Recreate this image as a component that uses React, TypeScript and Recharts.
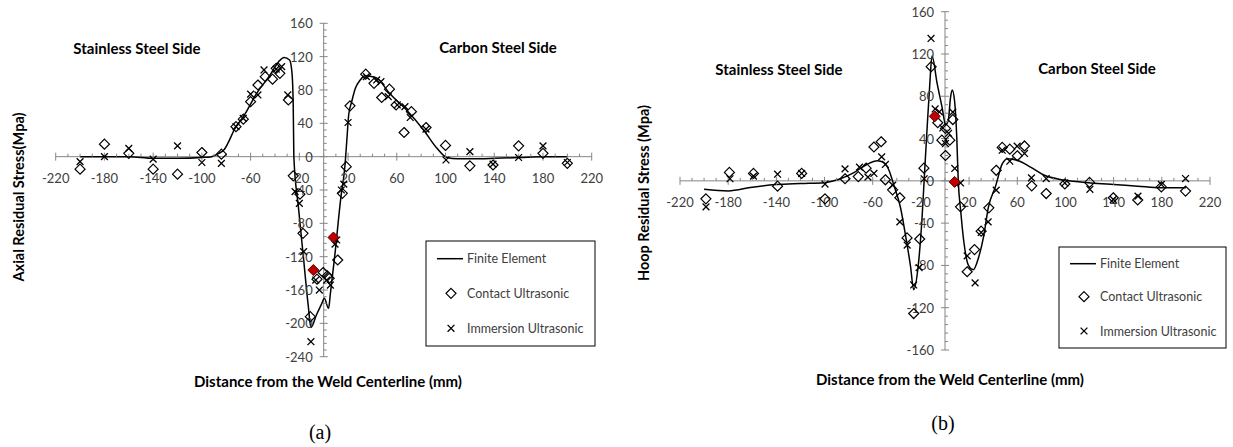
import React from 'react';
import {
    ComposedChart,
    Line,
    Scatter,
    XAxis,
    YAxis,
    ReferenceLine,
    ReferenceDot
} from 'recharts';

// tick labels
const xTickLabels = [-220, -180, -140, -100, -60, -20, 20, 60, 100, 140, 180, 220];
const axialTicks = [-240, -200, -160, -120, -80, -40, 0, 40, 80, 120, 160];
const hoopTicks = [-160, -120, -80, -40, 0, 40, 80, 120, 160];

// (a) axial residual stress
const axialFE = [
    { x: -200, y: 0 }, { x: -180, y: 0 }, { x: -160, y: 0 }, { x: -140, y: -2 }, { x: -120, y: -2 },
    { x: -100, y: -1 }, { x: -92, y: 0 }, { x: -86, y: 4 }, { x: -82, y: 8 }, { x: -72, y: 36 },
    { x: -66, y: 48 }, { x: -55, y: 76 }, { x: -44, y: 98 }, { x: -37, y: 114 }, { x: -32.5, y: 119 },
    { x: -28, y: 116 }, { x: -26, y: 100 }, { x: -25, y: 60 }, { x: -24.5, y: 0 }, { x: -20.8, y: -60 },
    { x: -16.7, y: -120 }, { x: -12.6, y: -180 }, { x: -10.5, y: -205 }, { x: -6, y: -190 }, { x: -1.5, y: -176 },
    { x: 0.5, y: -170 }, { x: 4, y: -182 }, { x: 5.5, y: -164 }, { x: 9, y: -120 }, { x: 14, y: -50 },
    { x: 17.5, y: -10 }, { x: 19, y: 20 }, { x: 20.5, y: 50 }, { x: 23, y: 66 }, { x: 26, y: 82 },
    { x: 30, y: 92 }, { x: 34, y: 97 }, { x: 40, y: 96 }, { x: 44, y: 94 }, { x: 54, y: 76 },
    { x: 68, y: 56 }, { x: 82, y: 32 }, { x: 93, y: 10 }, { x: 101, y: -1 }, { x: 110, y: -2.5 },
    { x: 123, y: -2.5 }, { x: 140, y: -2 }, { x: 161, y: -1 }, { x: 180, y: 0 }, { x: 200, y: 0 }
];
const axialContact = [
    { x: -200, y: -15 }, { x: -180, y: 15 }, { x: -160, y: 4 }, { x: -140, y: -15 }, { x: -120, y: -21 },
    { x: -100, y: 5 }, { x: -84, y: 3 }, { x: -72, y: 36 }, { x: -66, y: 45 }, { x: -60, y: 66 },
    { x: -54, y: 86 }, { x: -48, y: 96 }, { x: -42, y: 93 }, { x: -39, y: 106 }, { x: -36, y: 100 },
    { x: -29, y: 68 }, { x: -25, y: -23 }, { x: -19.5, y: -45 }, { x: -17, y: -92 }, { x: -11, y: -192 },
    { x: -5.5, y: -147 }, { x: -0.5, y: -139 }, { x: 3, y: -143 }, { x: 4.5, y: -146 }, { x: 11.5, y: -124 },
    { x: 15.3, y: -44 }, { x: 18.5, y: -12 }, { x: 21.6, y: 61 }, { x: 34.5, y: 99 }, { x: 41.3, y: 88 },
    { x: 47.6, y: 71 }, { x: 54, y: 81 }, { x: 59.4, y: 62 }, { x: 66, y: 29 }, { x: 72, y: 54 },
    { x: 84, y: 35 }, { x: 100, y: 13.5 }, { x: 120, y: -11 }, { x: 139, y: -10 }, { x: 160, y: 13 },
    { x: 180, y: 4 }, { x: 200, y: -8 }
];
const axialImmersion = [
    { x: -200, y: -6 }, { x: -180, y: 0 }, { x: -160, y: 10 }, { x: -140, y: -3 }, { x: -120, y: 13 },
    { x: -100, y: -7 }, { x: -84, y: -8 }, { x: -72, y: 36 }, { x: -66, y: 46 }, { x: -60, y: 75 },
    { x: -54, y: 74 }, { x: -49, y: 104 }, { x: -39, y: 105 }, { x: -34.5, y: 108 }, { x: -29.5, y: 74 },
    { x: -23.5, y: -42 }, { x: -20, y: -56 }, { x: -16.5, y: -114 }, { x: -10.5, y: -222 }, { x: -6.5, y: -148 },
    { x: -3.6, y: -160 }, { x: 2.5, y: -148 }, { x: 5.5, y: -154 }, { x: 9.3, y: -105 }, { x: 10.7, y: -100 },
    { x: 14.5, y: -40 }, { x: 16.5, y: -33 }, { x: 20, y: 41 }, { x: 35, y: 96 }, { x: 43.5, y: 92 },
    { x: 47, y: 90 }, { x: 53, y: 72 }, { x: 60.4, y: 62 }, { x: 66.7, y: 60 }, { x: 71, y: 47 },
    { x: 84, y: 33 }, { x: 100.4, y: -4 }, { x: 120, y: 6 }, { x: 139, y: -9 }, { x: 160, y: -1 },
    { x: 180, y: 13 }, { x: 200, y: -7 }
];
const axialRed = [{ x: -8.5, y: -136 }, { x: 8, y: -97 }];

// (b) hoop residual stress
const hoopFE = [
    { x: -200, y: -8 }, { x: -180, y: -9.5 }, { x: -160, y: -6 }, { x: -140, y: -3.5 }, { x: -120, y: -2.5 },
    { x: -100, y: -1.7 }, { x: -88, y: 1.5 }, { x: -76, y: 7.5 }, { x: -65, y: 15.5 }, { x: -56, y: 19 },
    { x: -51, y: 17.5 }, { x: -46.5, y: 10 }, { x: -42.5, y: -4 }, { x: -37, y: -25 }, { x: -33, y: -50 },
    { x: -28.6, y: -81 }, { x: -26, y: -103 }, { x: -22.3, y: -81 }, { x: -19, y: -34 }, { x: -17, y: 7 },
    { x: -14.8, y: 51 }, { x: -12.6, y: 92 }, { x: -10.8, y: 118 }, { x: -6.5, y: 92 }, { x: -2.5, y: 70 },
    { x: 0.5, y: 53 }, { x: 2.7, y: 57 }, { x: 4.6, y: 79 }, { x: 6, y: 86 }, { x: 7.9, y: 76 },
    { x: 9.8, y: 40 }, { x: 11, y: 0 }, { x: 13, y: -28 }, { x: 15.8, y: -59 }, { x: 19.5, y: -80 },
    { x: 23.5, y: -84 }, { x: 28, y: -72 }, { x: 32, y: -53 }, { x: 36, y: -25 }, { x: 42, y: -5 },
    { x: 47.5, y: 16 }, { x: 52, y: 21 }, { x: 60, y: 19.5 }, { x: 71, y: 13 }, { x: 82, y: 5.5 },
    { x: 99, y: 0.7 }, { x: 121, y: -2 }, { x: 140, y: -3.5 }, { x: 160, y: -5 }, { x: 179, y: -6.6 },
    { x: 200, y: -6.6 }
];
const hoopContact = [
    { x: -198.5, y: -17 }, { x: -179, y: 8 }, { x: -159, y: 7 }, { x: -139, y: -5 }, { x: -119, y: 7 },
    { x: -99.6, y: -17 }, { x: -83, y: 2 }, { x: -72, y: 4 }, { x: -65.5, y: 12 }, { x: -59, y: 32 },
    { x: -53, y: 37 }, { x: -49.5, y: 1 }, { x: -43.5, y: -8.5 }, { x: -37.5, y: -16 }, { x: -31.5, y: -54 },
    { x: -26, y: -125.5 }, { x: -21, y: -55 }, { x: -17.5, y: 12 }, { x: -11.5, y: 108 }, { x: -6, y: 55 },
    { x: -2.6, y: 38.5 }, { x: 0.4, y: 24 }, { x: 0.4, y: 49.6 }, { x: 4, y: 38.5 }, { x: 6.5, y: 58 },
    { x: 12.9, y: -24.6 }, { x: 18.4, y: -86 }, { x: 24.5, y: -65 }, { x: 30, y: -47.6 }, { x: 36.4, y: -25.5 },
    { x: 42.5, y: 10 }, { x: 47.5, y: 31.6 }, { x: 53.8, y: 30 }, { x: 60, y: 23.7 }, { x: 66, y: 33 },
    { x: 72, y: -4.7 }, { x: 84, y: -12 }, { x: 99.5, y: -3 }, { x: 120, y: -1.5 }, { x: 139.7, y: -16 },
    { x: 160, y: -18 }, { x: 179.6, y: -5.7 }, { x: 199.7, y: -9.7 }
];
const hoopImmersion = [
    { x: -198.4, y: -24.6 }, { x: -178.5, y: 2 }, { x: -159, y: 4.5 }, { x: -139, y: 6.3 }, { x: -119, y: 7 },
    { x: -99.6, y: -3 }, { x: -83, y: 11.3 }, { x: -71, y: 13 }, { x: -64, y: 3.5 }, { x: -59, y: 7 },
    { x: -52.6, y: 22.7 }, { x: -49.5, y: 15.5 }, { x: -43.4, y: -4 }, { x: -37.5, y: -38.8 }, { x: -31.4, y: -60.8 },
    { x: -26, y: -98.5 }, { x: -21.5, y: -82 }, { x: -17.3, y: 2 }, { x: -11.6, y: 134.7 }, { x: -8.2, y: 68 },
    { x: -4.7, y: 65.3 }, { x: -1.8, y: 50 }, { x: 0.4, y: 35.3 }, { x: 3, y: 45 }, { x: 6.5, y: 65 },
    { x: 8.1, y: 11.7 }, { x: 12.9, y: -2 }, { x: 18.4, y: -71 }, { x: 25, y: -96.5 }, { x: 30, y: -48.8 },
    { x: 35.8, y: -38.8 }, { x: 42.5, y: -8.8 }, { x: 47.5, y: 29 }, { x: 53.8, y: 18.6 }, { x: 59.9, y: 32.8 },
    { x: 66, y: 25.9 }, { x: 71.8, y: 2.8 }, { x: 84, y: 2.2 }, { x: 99.5, y: -2 }, { x: 120.3, y: -8 },
    { x: 139.7, y: -17.6 }, { x: 160.2, y: -14.5 }, { x: 179.6, y: -3.4 }, { x: 199.7, y: 2.2 }
];
const hoopRed = [{ x: -8.5, y: 61 }, { x: 8, y: -1 }];

const AXIS = '#868686';
const LABEL = '#404040';
const FONT = 'Lato, "Open Sans", sans-serif';

const range = (from: number, to: number, step: number) => {
    const out: number[] = [];
    for (let v = from; v <= to + 1e-9; v += step) out.push(v);
    return out;
};

const diamondPath = (cx: number, cy: number, s: number) =>
    `M${cx},${cy - s}L${cx + s},${cy}L${cx},${cy + s}L${cx - s},${cy}Z`;

const DiamondShape = (props: any) => (
    <path d={diamondPath(props.cx, props.cy, 5)} fill="none" stroke="#000" strokeWidth={1.2} />
);
const RedDiamondShape = (props: any) => (
    <path d={diamondPath(props.cx, props.cy, 5.5)} fill="#c00000" stroke="#5a0000" strokeWidth={1} />
);
const CrossShape = (props: any) => {
    const { cx, cy } = props;
    const s = 3.4;
    return (
        <path d={`M${cx - s},${cy - s}L${cx + s},${cy + s}M${cx - s},${cy + s}L${cx + s},${cy - s}`}
            stroke="#000" strokeWidth={1.3} fill="none" />
    );
};

interface PanelProps {
    left: number;
    width: number;
    margin: { top: number; right: number; bottom: number; left: number };
    yDomain: [number, number];
    yTicks: number[];
    fe: { x: number; y: number }[];
    contact: { x: number; y: number }[];
    immersion: { x: number; y: number }[];
    red: { x: number; y: number }[];
}

function Panel({ left, width, margin, yDomain, yTicks, fe, contact, immersion, red }: PanelProps) {
    const xMinor = range(-220, 220, 10);
    const yMinor = range(yDomain[0], yDomain[1], 8);
    return (
        <div style={{ position: 'absolute', left, top: 0 }}>
            <ComposedChart width={width} height={447} margin={margin}>
                <XAxis type="number" dataKey="x" domain={[-220, 220]} hide allowDataOverflow />
                <YAxis type="number" dataKey="y" domain={yDomain} hide allowDataOverflow />
                <ReferenceLine y={0} stroke={AXIS} strokeWidth={1} />
                <ReferenceLine x={0} stroke={AXIS} strokeWidth={1} />
                {xMinor.map((v) => (
                    <ReferenceDot key={`xm${v}`} x={v} y={0} ifOverflow="visible"
                        shape={(p: any) => (
                            v % 40 === 20 || v % 40 === -20
                                ? <line x1={p.cx} x2={p.cx} y1={p.cy - 4} y2={p.cy + 4} stroke={AXIS} />
                                : <line x1={p.cx} x2={p.cx} y1={p.cy - 3} y2={p.cy} stroke={AXIS} />
                        )} />
                ))}
                {yMinor.map((v) => (
                    <ReferenceDot key={`ym${v}`} x={0} y={v} ifOverflow="visible"
                        shape={(p: any) => (
                            v % 40 === 0
                                ? <line x1={p.cx - 4} x2={p.cx + 4} y1={p.cy} y2={p.cy} stroke={AXIS} />
                                : <line x1={p.cx} x2={p.cx + 3} y1={p.cy} y2={p.cy} stroke={AXIS} />
                        )} />
                ))}
                {xTickLabels.map((v) => (
                    <ReferenceDot key={`xl${v}`} x={v} y={0} ifOverflow="visible"
                        shape={(p: any) => (
                            <text x={p.cx} y={p.cy + 26} textAnchor="middle" fontSize={13}
                                fill={LABEL} fontFamily={FONT}>{v}</text>
                        )} />
                ))}
                {yTicks.map((v) => (
                    <ReferenceDot key={`yl${v}`} x={0} y={v} ifOverflow="visible"
                        shape={(p: any) => (
                            <text x={p.cx - 11} y={p.cy} textAnchor="end" dominantBaseline="central"
                                fontSize={13} fill={LABEL} fontFamily={FONT}>{v}</text>
                        )} />
                ))}
                <Line data={fe} dataKey="y" type="monotone" dot={false} stroke="#000"
                    strokeWidth={1.5} isAnimationActive={false} />
                <Scatter data={contact} dataKey="y" shape={DiamondShape} isAnimationActive={false} />
                <Scatter data={immersion} dataKey="y" shape={CrossShape} isAnimationActive={false} />
                <Scatter data={red} dataKey="y" shape={RedDiamondShape} isAnimationActive={false} />
            </ComposedChart>
        </div>
    );
}

function LegendBox({ x, y, w, h, rows }: { x: number; y: number; w: number; h: number; rows: number[] }) {
    const sx = x + 25;
    const tx = x + 41;
    return (
        <g>
            <rect x={x} y={y} width={w} height={h} fill="#fff" stroke="#000" strokeWidth={1} />
            <line x1={sx - 14} x2={sx + 12} y1={rows[0]} y2={rows[0]} stroke="#000" strokeWidth={1.5} />
            <text x={tx} y={rows[0]} dominantBaseline="central" fontSize={12.5} fill={LABEL}>Finite Element</text>
            <path d={diamondPath(sx, rows[1], 5)} fill="none" stroke="#000" strokeWidth={1.2} />
            <text x={tx} y={rows[1]} dominantBaseline="central" fontSize={12.5} fill={LABEL}>Contact Ultrasonic</text>
            <path d={`M${sx - 3.4},${rows[2] - 3.4}L${sx + 3.4},${rows[2] + 3.4}M${sx - 3.4},${rows[2] + 3.4}L${sx + 3.4},${rows[2] - 3.4}`}
                stroke="#000" strokeWidth={1.3} />
            <text x={tx} y={rows[2]} dominantBaseline="central" fontSize={12.5} fill={LABEL}>Immersion Ultrasonic</text>
        </g>
    );
}

export default function App() {
    return (
        <div style={{ position: 'absolute', left: 0, top: 0, width: 1233, height: 447, background: '#fff', fontFamily: FONT }}>
            <Panel left={0} width={620}
                margin={{ top: 23.3, right: 28.3, bottom: 90.3, left: 55.7 }}
                yDomain={[-240, 160]} yTicks={axialTicks}
                fe={axialFE} contact={axialContact} immersion={axialImmersion} red={axialRed} />
            <Panel left={620} width={613}
                margin={{ top: 11.7, right: 23, bottom: 97, left: 60 }}
                yDomain={[-160, 160]} yTicks={hoopTicks}
                fe={hoopFE} contact={hoopContact} immersion={hoopImmersion} red={hoopRed} />
            <svg width={1233} height={447} style={{ position: 'absolute', left: 0, top: 0, pointerEvents: 'none' }}
                fontFamily={FONT}>
                <text transform="translate(18,197) rotate(-90)" textAnchor="middle" dominantBaseline="central"
                    fontSize={14.5} fontWeight="bold" fill="#000">Axial Residual Stress(Mpa)</text>
                <text transform="translate(643,193) rotate(-90)" textAnchor="middle" dominantBaseline="central"
                    fontSize={14.5} fontWeight="bold" fill="#000">Hoop Residual Stress (Mpa)</text>
                <text x={137} y={48} textAnchor="middle" dominantBaseline="central" fontSize={15} fontWeight="bold">Stainless Steel Side</text>
                <text x={498} y={47} textAnchor="middle" dominantBaseline="central" fontSize={15} fontWeight="bold">Carbon Steel Side</text>
                <text x={779} y={69} textAnchor="middle" dominantBaseline="central" fontSize={15} fontWeight="bold">Stainless Steel Side</text>
                <text x={1097} y={68} textAnchor="middle" dominantBaseline="central" fontSize={15} fontWeight="bold">Carbon Steel Side</text>
                <text x={328} y={381} textAnchor="middle" dominantBaseline="central" fontSize={15} fontWeight="bold">Distance from the Weld Centerline (mm)</text>
                <text x={950} y={379} textAnchor="middle" dominantBaseline="central" fontSize={15} fontWeight="bold">Distance from the Weld Centerline (mm)</text>
                <text x={320} y={432} textAnchor="middle" dominantBaseline="central" fontSize={20}
                    fontFamily='"Liberation Serif", "DejaVu Serif", serif'>(a)</text>
                <text x={943} y={423} textAnchor="middle" dominantBaseline="central" fontSize={20}
                    fontFamily='"Liberation Serif", "DejaVu Serif", serif'>(b)</text>
                <LegendBox x={426} y={241} w={169} h={105} rows={[258.7, 293.3, 328.3]} />
                <LegendBox x={1059} y={247} w={167} h={101} rows={[263.7, 296.7, 331]} />
            </svg>
        </div>
    );
}
